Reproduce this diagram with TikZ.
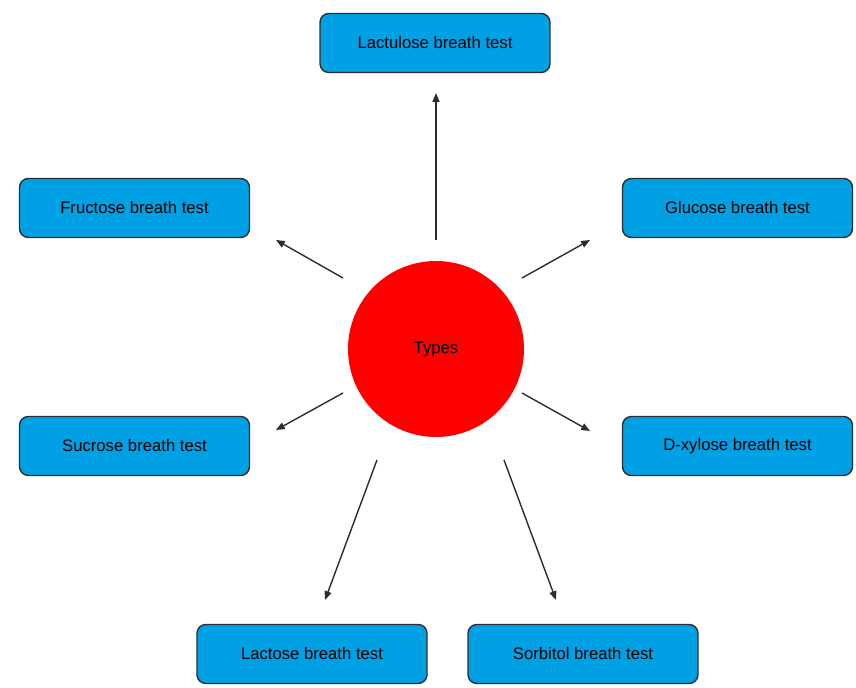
\documentclass[tikz,border=0pt]{standalone}
\usepackage{fontspec}
\setmainfont{Liberation Sans}
\usetikzlibrary{arrows.meta}
\definecolor{testblue}{RGB}{0,160,228}
\definecolor{linegray}{RGB}{45,45,45}
\begin{document}
\begin{tikzpicture}[x=0.02cm,y=-0.02cm,font=\fontsize{9.5}{11}\selectfont,
    testbox/.style={draw=linegray,line width=0.8pt,fill=testblue,rounded corners=5pt,
      minimum width=4.6cm,minimum height=1.18cm,align=center},
    hub/.style={circle,fill=red,minimum size=3.52cm,inner sep=0pt},
    link/.style={draw=linegray,line width=0.8pt,-{Triangle[length=5pt,width=4pt]}}]
  \useasboundingbox (0,0) rectangle (856,688);
  % centre
  \node[hub] (types) at (436,349) {Types};
  % the seven tests
  \node[testbox] (lactulose) at (435,43) {Lactulose breath test};
  \node[testbox] (fructose) at (134.5,208) {Fructose breath test};
  \node[testbox] (glucose) at (737.5,208) {Glucose breath test};
  \node[testbox] (sucrose) at (134.5,446) {Sucrose breath test};
  \node[testbox] (xylose) at (737.5,446) {D-xylose breath test};
  \node[testbox] (lactose) at (312,654) {Lactose breath test};
  \node[testbox] (sorbitol) at (583,654) {Sorbitol breath test};
  % arrow ends
  \coordinate (a1) at (436,240); \coordinate (b1) at (436,93);
  \coordinate (a2) at (343,278); \coordinate (b2) at (276,240);
  \coordinate (a3) at (522,278); \coordinate (b3) at (590,240);
  \coordinate (a4) at (343,393); \coordinate (b4) at (276,430);
  \coordinate (a5) at (522,393); \coordinate (b5) at (590,431);
  \coordinate (a6) at (377,460); \coordinate (b6) at (325,600);
  \coordinate (a7) at (504,460); \coordinate (b7) at (556,600);
  \foreach \i in {1,...,7}
    \draw[link] (a\i) -- (b\i);
\end{tikzpicture}
\end{document}
